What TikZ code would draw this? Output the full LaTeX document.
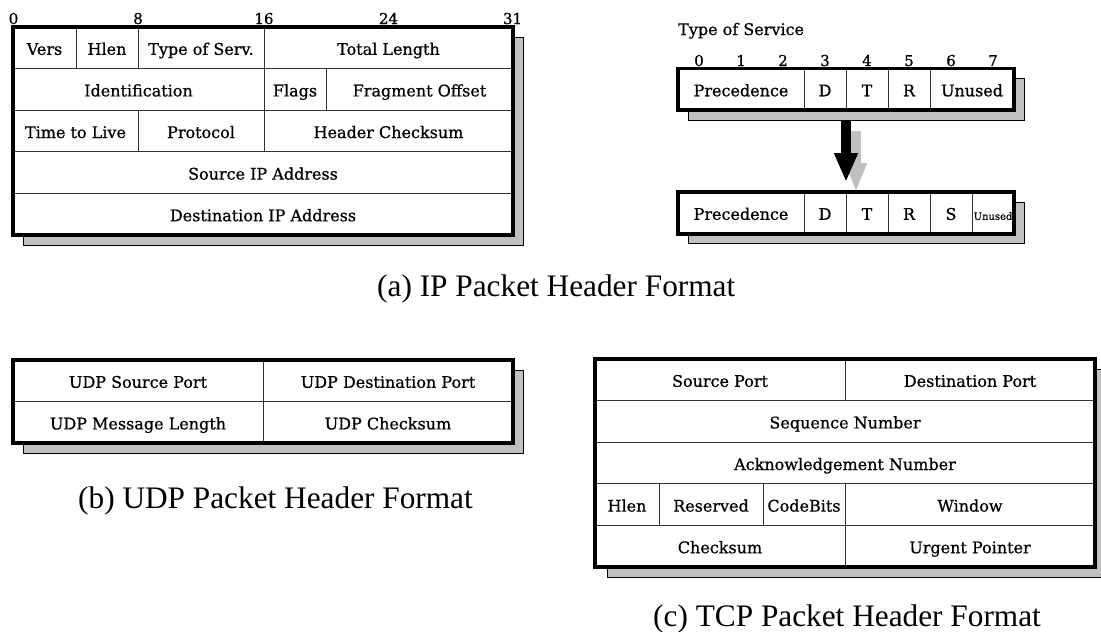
\documentclass[tikz,border=0pt]{standalone}
\usepackage{fontspec}
\setmainfont{DejaVu Serif}
\newfontfamily\cellfont{DejaVu Serif}[FakeBold=0.7]
\newfontfamily\capfont{Liberation Serif}
\usetikzlibrary{arrows.meta,backgrounds}
\definecolor{shadowgray}{HTML}{C0C0C0}
\definecolor{rulegray}{HTML}{333333}
\tikzset{
  cell/.style={draw=rulegray, line width=0.9pt, fill=white, anchor=north west,
    inner sep=0pt, outer sep=0pt, minimum height=41.6pt,
    text height=14pt, text depth=0pt, font=\cellfont\fontsize{16}{18}\selectfont},
  frame/.style={draw=black, line width=3.8pt},
  drop/.style={draw=black, line width=1pt, fill=shadowgray},
  bitnum/.style={anchor=base, inner sep=0pt, font=\cellfont\fontsize{15}{16}\selectfont},
  title/.style={anchor=base west, inner sep=0pt, font=\cellfont\fontsize{16}{18}\selectfont},
  caption/.style={anchor=base west, inner sep=0pt, font=\capfont\fontsize{31.3}{34}\selectfont},
  blockarrow/.style={line width=10pt, -{Triangle[length=29pt,width=22pt]}},
}
\begin{document}
\begin{tikzpicture}[x=1pt,y=-1pt]
\useasboundingbox (0,0) rectangle (1101,632);

% ---------- IP header ----------
\node[cell,minimum width=63pt]  (ipVers)  at (13,27)    {Vers};
\node[cell,minimum width=62pt]  (ipHlen)  at (76,27)    {Hlen};
\node[cell,minimum width=126pt] (ipTos)   at (138,27)   {Type of Serv.};
\node[cell,minimum width=249pt] (ipLen)   at (264,27)   {Total Length};
\node[cell,minimum width=251pt] (ipId)    at (13,68.6)  {Identification};
\node[cell,minimum width=62pt]  (ipFlags) at (264,68.6) {Flags};
\node[cell,minimum width=187pt] (ipFrag)  at (326,68.6) {Fragment Offset};
\node[cell,minimum width=125pt] (ipTtl)   at (13,110.2) {Time to Live};
\node[cell,minimum width=126pt] (ipProto) at (138,110.2){Protocol};
\node[cell,minimum width=249pt] (ipCk)    at (264,110.2){Header Checksum};
\node[cell,minimum width=500pt] (ipSrc)   at (13,151.8) {Source IP Address};
\node[cell,minimum width=500pt] (ipDst)   at (13,193.4) {Destination IP Address};
\draw[frame] (ipVers.north west) rectangle (ipDst.south east);

\node[bitnum] (bit0)  at (13.5,24)  {0};
\node[bitnum] (bit8)  at (138,24)   {8};
\node[bitnum] (bit16) at (264,24)   {16};
\node[bitnum] (bit24) at (388.5,24) {24};
\node[bitnum] (bit31) at (512.5,24) {31};

% ---------- Type of Service ----------
\node[title] (tosTitle) at (678,35) {Type of Service};
\foreach \k in {0,...,7}
  \node[bitnum] (tosBit\k) at (699+42*\k,66) {\k};

\node[cell,minimum width=126pt] (tPrec) at (678,68.5) {Precedence};
\node[cell,minimum width=42pt]  (tD)    at (804,68.5) {D};
\node[cell,minimum width=42pt]  (tT)    at (846,68.5) {T};
\node[cell,minimum width=42pt]  (tR)    at (888,68.5) {R};
\node[cell,minimum width=84pt]  (tU)    at (930,68.5) {Unused};
\draw[frame] (tPrec.north west) rectangle (tU.south east);

\node[cell,minimum width=126pt] (bPrec) at (678,192) {Precedence};
\node[cell,minimum width=42pt]  (bD)    at (804,192) {D};
\node[cell,minimum width=42pt]  (bT)    at (846,192) {T};
\node[cell,minimum width=42pt]  (bR)    at (888,192) {R};
\node[cell,minimum width=42pt]  (bS)    at (930,192) {S};
\node[cell,minimum width=42pt]  (bU)    at (972,192) {\fontsize{10}{11}\selectfont Unused};
\draw[frame] (bPrec.north west) rectangle (bU.south east);

% old and new layout arrows
\draw[blockarrow, draw=shadowgray, -{Triangle[length=29pt,width=20pt]}]
  ([shift={(10,21)}]tT.south west) -- ([xshift=10pt]bT.north west);
\draw[blockarrow, draw=black, shorten <=11pt, shorten >=10pt]
  (tT.south west) -- (bT.north west);

% ---------- UDP header ----------
\node[cell,minimum width=250pt] (uSrc) at (13,360)    {UDP Source Port};
\node[cell,minimum width=250pt] (uDst) at (263,360)   {UDP Destination Port};
\node[cell,minimum width=250pt] (uLen) at (13,401.6)  {UDP Message Length};
\node[cell,minimum width=250pt] (uCk)  at (263,401.6) {UDP Checksum};
\draw[frame] (uSrc.north west) rectangle (uCk.south east);

% ---------- TCP header ----------
\node[cell,minimum width=250pt] (tSrc)  at (595,359)   {Source Port};
\node[cell,minimum width=250pt] (tDst)  at (845,359)   {Destination Port};
\node[cell,minimum width=500pt] (tSeq)  at (595,400.6) {Sequence Number};
\node[cell,minimum width=500pt] (tAck)  at (595,442.2) {Acknowledgement Number};
\node[cell,minimum width=64pt]  (tHlen) at (595,483.8) {Hlen};
\node[cell,minimum width=104pt] (tRes)  at (659,483.8) {Reserved};
\node[cell,minimum width=82pt]  (tCode) at (763,483.8) {CodeBits};
\node[cell,minimum width=250pt] (tWin)  at (845,483.8) {Window};
\node[cell,minimum width=250pt] (tCk)   at (595,525.4) {Checksum};
\node[cell,minimum width=250pt] (tUrg)  at (845,525.4) {Urgent Pointer};
\draw[frame] (tSrc.north west) rectangle (tUrg.south east);

% drop shadows behind every header box
\begin{scope}[on background layer]
  \draw[drop] ([shift={(10,10)}]ipVers.north west) rectangle ([shift={(10,10)}]ipDst.south east);
  \draw[drop] ([shift={(10,10)}]tPrec.north west) rectangle ([shift={(10,10)}]tU.south east);
  \draw[drop] ([shift={(10,10)}]bPrec.north west) rectangle ([shift={(10,10)}]bU.south east);
  \draw[drop] ([shift={(10,10)}]uSrc.north west) rectangle ([shift={(10,10)}]uCk.south east);
  \draw[drop] ([shift={(12,10)}]tSrc.north west) rectangle ([shift={(12,10)}]tUrg.south east);
\end{scope}

% ---------- captions ----------
\node[caption] (capA) at (377,296) {(a) IP Packet Header Format};
\node[caption] (capB) at (78,508)  {(b) UDP Packet Header Format};
\node[caption] (capC) at (653,626) {(c) TCP Packet Header Format};
\end{tikzpicture}
\end{document}
